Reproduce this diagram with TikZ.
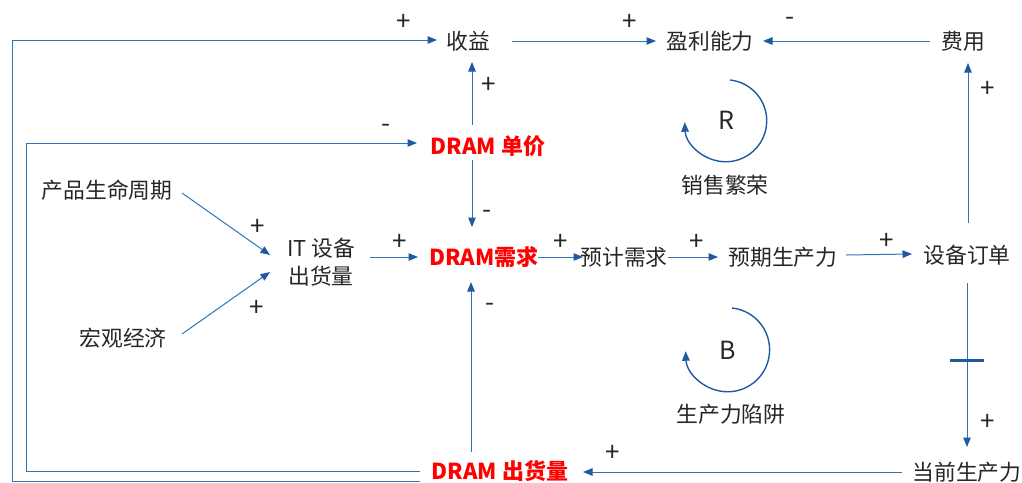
\documentclass[tikz,border=0pt]{standalone}
\usepackage{fontspec}
\setmainfont{Noto Sans CJK SC}
\usetikzlibrary{arrows.meta,calc}
\definecolor{lnblue}{RGB}{46,117,182}
\definecolor{tipblue}{RGB}{31,90,160}
\definecolor{txt}{RGB}{38,38,38}
\definecolor{dred}{RGB}{255,0,0}
\tikzset{
  lbl/.style={inner sep=0pt,text=txt,font=\fontsize{21.8}{28}\selectfont},
  redlbl/.style={inner sep=0pt,text=dred,font=\fontsize{22}{26}\selectfont\bfseries},
  sgn/.style={inner sep=0pt,text=txt,font=\fontsize{26}{28}\selectfont},
  arr/.style={draw=lnblue,line width=1pt,-{Triangle[length=9.5pt,width=7.5pt,color=tipblue,fill=tipblue]}},
  loopar/.style={draw=tipblue,line width=1.4pt,-{Triangle[length=9.5pt,width=7.5pt,color=tipblue,fill=tipblue]}},
  looplbl/.style={inner sep=0pt,text=txt,font=\fontsize{25}{27}\selectfont},
}
\begin{document}
\begin{tikzpicture}[x=1pt,y=1pt,yscale=-1]
\useasboundingbox (0,0) rectangle (1022,482);
% nodes
\node[lbl] (sy) at (468,41) {收益};
\node[lbl] (yl) at (710,41) {盈利能力};
\node[lbl] (fy) at (963,41) {费用};
\node[redlbl] (dj) at (488,146) {DRAM 单价};
\node[lbl] (cp) at (107,190) {产品生命周期};
\node[lbl] (hg) at (123,338) {宏观经济};
\node[lbl,align=center] (it) at (321,262) {IT 设备\\出货量};
\node[redlbl] (xq) at (484,257) {DRAM需求};
\node[lbl] (yj) at (624,257) {预计需求};
\node[lbl] (yq) at (783,257) {预期生产力};
\node[lbl] (dd) at (967,255) {设备订单};
\node[lbl] (dq) at (967,472) {当前生产力};
\node[redlbl] (ch) at (500,471) {DRAM 出货量};
% loops
\node[looplbl] (R) at (726,120) {R};
\node[lbl] (rl) at (725,185) {销售繁荣};
\node[looplbl] (B) at (728,350) {B};
\node[lbl] (bl) at (731,414) {生产力陷阱};
\draw[loopar] ($(R)+(4,-40)$) arc[start angle=-84,end angle=178,radius=41];
\draw[loopar] ($(B)+(4,-42)$) arc[start angle=-84,end angle=178,radius=42];
% connectors
\draw[arr] ($(dj)+(-16,-21)$) -- ($(sy)+(4,21)$);
\draw[arr] ($(dj)+(-16,14)$) -- ($(xq)+(-12,-30)$);
\draw[arr] ($(ch)+(-29,-19)$) -- ($(xq)+(-13,25)$);
\draw[arr] ($(sy)+(44,0)$) -- ($(yl)+(-54,0)$);
\draw[arr] ($(fy)+(-33,0)$) -- ($(yl)+(53,0)$);
\draw[arr] ($(dd)+(1,-32)$) -- ($(fy)+(5,22)$);
\draw[arr] ($(cp)+(75,3)$) -- ($(it)+(-51,-7)$);
\draw[arr] ($(hg)+(59,-4)$) -- ($(it)+(-51,10)$);
\draw[arr] ($(it)+(49,-5)$) -- ($(xq)+(-66,0)$);
\draw[arr] ($(xq)+(54,0)$) -- ($(yj)+(-41,0)$);
\draw[arr] ($(yj)+(44,0)$) -- ($(yq)+(-65,0)$);
\draw[arr] ($(yq)+(63,-2)$) -- ($(dd)+(-55,-1)$);
\draw[arr] ($(dd)+(0,28)$) -- ($(dq)+(0,-25)$);
\coordinate (dly) at ($(dd)!0.5!(dq)+(0,-3)$);
\draw[draw=tipblue,line width=3pt] ($(dly)+(-17,0)$) -- ($(dly)+(17,0)$);
\draw[arr] ($(dq)+(-65,0)$) -- ($(ch)+(83,1)$);
\coordinate (i1) at (26,471);
\coordinate (i2) at (26,143);
\draw[arr] ($(ch)+(-80,0)$) -- (i1) -- (i2) -- ($(dj)+(-71,-3)$);
\coordinate (o1) at (12,481);
\coordinate (o2) at (12,40);
\draw[arr] ($(ch)+(-80,10)$) -- (o1) -- (o2) -- ($(sy)+(-31,-1)$);
% signs
\node[sgn] (s1) at (404,22) {+};
\node[sgn] (s2) at (489,85) {+};
\node[sgn] (s3) at (386,128) {-};
\node[sgn] (s4) at (630,22) {+};
\node[sgn] (s5) at (790,21) {-};
\node[sgn] (s6) at (988,89) {+};
\node[sgn] (s7) at (487,214) {-};
\node[sgn] (s8) at (258,227) {+};
\node[sgn] (s9) at (257,308) {+};
\node[sgn] (s10) at (400,242) {+};
\node[sgn] (s11) at (490,307) {-};
\node[sgn] (s12) at (561,242) {+};
\node[sgn] (s13) at (697,242) {+};
\node[sgn] (s14) at (887,241) {+};
\node[sgn] (s15) at (988,422) {+};
\node[sgn] (s16) at (613,453) {+};
\end{tikzpicture}
\end{document}
